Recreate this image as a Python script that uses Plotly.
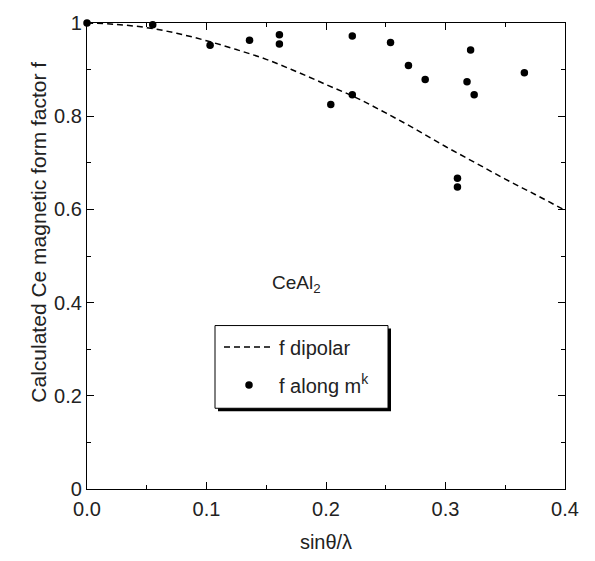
import plotly.graph_objects as go

# Dipolar form factor curve
dip_x = [0.0, 0.025, 0.05, 0.075, 0.1, 0.125, 0.15, 0.175, 0.2, 0.225, 0.25, 0.275, 0.3, 0.325, 0.35, 0.375, 0.4]
dip_f = [1.0, 0.997, 0.990, 0.978, 0.962, 0.943, 0.922, 0.896, 0.868, 0.840, 0.807, 0.772, 0.735, 0.700, 0.665, 0.632, 0.598]

# Form factor along m^k (points)
pts_x = [0.0, 0.055, 0.103, 0.136, 0.161, 0.161, 0.204, 0.222, 0.222, 0.254, 0.269, 0.283,
         0.310, 0.310, 0.318, 0.321, 0.324, 0.366]
pts_f = [1.0, 0.996, 0.952, 0.963, 0.975, 0.955, 0.825, 0.972, 0.846, 0.958, 0.909, 0.879,
         0.667, 0.648, 0.874, 0.942, 0.846, 0.893]

x_ticks = [0.0, 0.1, 0.2, 0.3, 0.4]
y_ticks = [0, 0.2, 0.4, 0.6, 0.8, 1]

FONT = "Liberation Sans, Arial, Helvetica, sans-serif"
TXT = "#222"
W, H = 595, 561
L, R, T, B = 87, 30, 14, 68
pw, ph = W - L - R, H - T - B

def px2paper(xp, yp):
    return (xp - L) / pw, (H - B - yp) / ph

fig = go.Figure()
fig.add_trace(go.Scatter(x=dip_x, y=dip_f, mode="lines", name="f dipolar", legendgroup="a",
                         line=dict(color="black", width=1.5, dash="6px,4px", shape="spline"),
                         cliponaxis=False))
fig.add_trace(go.Scatter(x=pts_x, y=pts_f, mode="markers", name="f along m<sup>k</sup>", legendgroup="b",
                         marker=dict(color="black", size=7.5), cliponaxis=False))

# legend frame (box + drop shadow)
bx0, by0 = px2paper(215, 325)
bx1, by1 = px2paper(388, 410)
sx0, sy0 = px2paper(218, 328)
sx1, sy1 = px2paper(391, 413)
lx, ly = px2paper(219, 327)

fig.update_layout(
    width=W, height=H,
    margin=dict(l=L, r=R, t=T, b=B),
    paper_bgcolor="white", plot_bgcolor="white",
    font=dict(family=FONT, size=20, color=TXT),
    showlegend=True,
    legend=dict(x=lx, y=ly, xanchor="left", yanchor="top",
                bgcolor="rgba(0,0,0,0)", borderwidth=0,
                font=dict(size=20, family=FONT, color=TXT),
                itemwidth=50, tracegroupgap=9),
    xaxis=dict(range=[0, 0.4], tickvals=x_ticks, tickformat=".1f",
               showgrid=False, zeroline=False, showline=True, linecolor="black", linewidth=1.3,
               mirror="ticks", ticks="inside", ticklen=7, tickcolor="black", tickwidth=1,
               minor=dict(dtick=0.05, ticks="inside", ticklen=4, tickcolor="black", showgrid=False),
               title=dict(text="sinθ/λ", font=dict(size=20), standoff=15),
               tickfont=dict(size=20), ticklabelstandoff=2),
    yaxis=dict(range=[0, 1], tickvals=y_ticks,
               showgrid=False, zeroline=False, showline=True, linecolor="black", linewidth=1.3,
               mirror="ticks", ticks="inside", ticklen=7, tickcolor="black", tickwidth=1,
               minor=dict(dtick=0.1, ticks="inside", ticklen=4, tickcolor="black", showgrid=False),
               tickfont=dict(size=20)),
    shapes=[
        dict(type="rect", xref="paper", yref="paper", x0=sx0, x1=sx1, y0=sy1, y1=sy0,
             fillcolor="black", line=dict(width=0), layer="above"),
        dict(type="rect", xref="paper", yref="paper", x0=bx0, x1=bx1, y0=by1, y1=by0,
             fillcolor="white", line=dict(width=1, color="black"), layer="above"),
    ],
    annotations=[
        dict(text="CeAl<sub>2</sub>", x=0.1753, y=0.44, xref="x", yref="y", showarrow=False,
             font=dict(size=19, family=FONT, color=TXT)),
        dict(text="Calculated Ce magnetic form factor f", textangle=-90,
             x=px2paper(25, 0)[0], y=px2paper(0, 229)[1], xref="paper", yref="paper",
             showarrow=False, font=dict(size=21, family=FONT, color=TXT)),
    ],
)

fig.write_html("out.html", config={"displayModeBar": False},
               post_script="document.body.style.margin='0px';")
